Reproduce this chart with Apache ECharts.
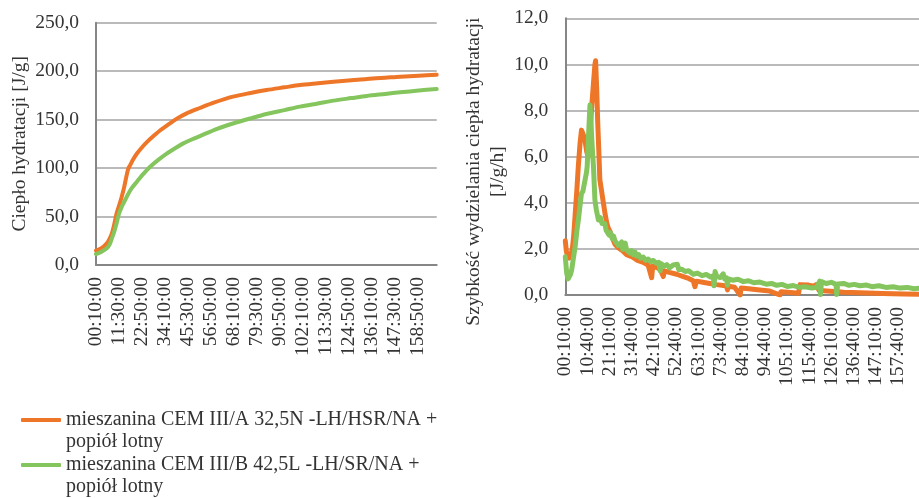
<!DOCTYPE html>
<html><head><meta charset="utf-8">
<script src="https://cdn.jsdelivr.net/npm/echarts/dist/echarts.min.js"></script>
<style>html,body{margin:0;padding:0;background:#fff}#c{width:919px;height:498px}</style>
</head><body><div id="c"></div>
<script>
// ---- data ----
const seriesNames = [
  'mieszanina CEM III/A 32,5N -LH/HSR/NA +\npopiół lotny',
  'mieszanina CEM III/B 42,5L -LH/SR/NA +\npopiół lotny'
];
const leftAxisName = 'Ciepło hydratacji [J/g]';
const rightAxisName = 'Szybkość wydzielania ciepła hydratacji\n[J/g/h]';
// time stamps every 10 min from 00:10:00 (category labels)
const sampleCount = 1008;
const categories = [];
for (let i = 0; i < sampleCount; i++) {
  const m = 10 + i * 10, h = Math.floor(m / 60), mm = m % 60;
  categories.push(String(h).padStart(2, '0') + ':' + String(mm).padStart(2, '0') + ':00');
}
// [sample index, value]
const heatOrange = [[0,14.8],[15,17],[32,22.4],[40,27],[47,32.7],[54,42],[61,53.3],[68,61],[76,70.5],[83,80],[89,90],[95,99],[101,103],[110,109],[121,115],[135,121],[151,127],[170,133],[190,139],[214,145],[239,151],[268,156.5],[307,162],[348,167.5],[405,173.7],[457,177.5],[504,180.5],[557,183.3],[603,185.7],[656,187.5],[702,189],[755,190.5],[800,191.9],[855,193.2],[899,194.3],[954,195.3],[1007,196.3]];
const heatGreen = [[0,11.3],[15,13.5],[32,17.2],[40,21],[47,27.5],[54,34.5],[61,43],[68,53],[76,60],[84,65.5],[91,70.5],[105,79],[121,86],[140,94],[160,101.4],[184,108.5],[209,115],[234,120.5],[258,125.5],[283,129.5],[307,133],[358,140.5],[405,146],[457,151.3],[504,155.8],[557,159.8],[603,163.4],[656,166.7],[702,169.6],[755,172.2],[800,174.4],[855,176.5],[899,178.2],[954,180],[1007,181.6]];
const rateOrange = [[0,2.35],[3,1.9],[6,1.7],[11,1.6],[16,1.75],[20,2.0],[24,2.6],[28,3.5],[33,4.6],[37,5.6],[42,6.6],[46,7.15],[50,7.0],[56,6.7],[61,6.2],[65,6.0],[70,7.0],[75,8.2],[80,9.2],[84,10.0],[86,10.16],[89,9.0],[92,7.5],[95,6.3],[98,5.0],[102,4.6],[106,4.2],[110,3.8],[113,3.5],[118,3.1],[122,2.9],[127,2.75],[133,2.5],[141,2.2],[150,2.05],[160,1.95],[174,1.75],[190,1.65],[205,1.5],[221,1.42],[235,1.3],[245,0.75],[248,1.25],[258,1.2],[269,1.12],[278,0.8],[281,1.05],[295,0.98],[316,0.9],[335,0.8],[350,0.72],[363,0.62],[368,0.36],[372,0.6],[390,0.55],[410,0.5],[430,0.45],[458,0.39],[460,0.22],[463,0.38],[480,0.34],[496,0.0],[499,0.3],[520,0.27],[552,0.22],[580,0.17],[609,0.0],[612,0.14],[630,0.12],[647,0.1],[662,0.08],[666,0.45],[690,0.43],[705,0.38],[712,0.45],[720,0.2],[742,0.17],[790,0.12],[836,0.1],[900,0.07],[960,0.04],[1007,0.03]];
const rateGreen = [[0,1.66],[4,0.94],[8,0.7],[11,0.72],[15,0.9],[18,1.08],[23,1.6],[28,2.1],[33,2.8],[37,3.25],[42,3.9],[46,4.41],[50,4.5],[56,4.99],[60,5.3],[62,5.56],[65,6.6],[68,7.6],[70,8.24],[72,7.8],[75,6.8],[78,6.0],[80,5.56],[84,4.12],[88,3.7],[94,3.25],[100,3.35],[104,3.1],[108,3.03],[112,3.1],[116,2.8],[120,2.85],[124,2.6],[128,2.7],[133,2.45],[137,2.55],[141,2.35],[146,2.4],[150,2.15],[155,2.2],[160,2.3],[163,1.98],[167,2.1],[170,2.25],[174,1.95],[179,2.0],[183,1.82],[188,1.92],[193,1.75],[198,1.86],[202,1.7],[208,1.75],[214,1.6],[221,1.65],[228,1.5],[235,1.56],[242,1.45],[250,1.5],[258,1.38],[265,1.42],[269,1.05],[272,1.36],[280,1.25],[288,1.32],[296,1.18],[306,1.3],[310,1.36],[318,1.33],[322,1.1],[330,1.12],[340,1.02],[350,1.05],[363,0.9],[375,0.95],[388,0.84],[400,0.89],[412,0.78],[420,0.84],[422,0.4],[425,1.02],[430,0.8],[440,0.76],[448,0.92],[452,0.7],[458,0.74],[460,0.42],[463,0.7],[475,0.64],[490,0.68],[505,0.58],[520,0.62],[535,0.53],[552,0.56],[570,0.47],[585,0.5],[600,0.42],[615,0.46],[630,0.37],[647,0.41],[665,0.33],[680,0.36],[700,0.3],[713,0.33],[718,0.32],[722,0.6],[724,0.02],[727,0.58],[740,0.5],[755,0.55],[768,0.46],[770,0.02],[773,0.48],[790,0.5],[805,0.42],[820,0.46],[836,0.4],[855,0.43],[870,0.36],[890,0.4],[910,0.33],[930,0.36],[950,0.3],[970,0.33],[990,0.27],[1007,0.3]];
const leftTicks = {min: 0, max: 250, step: 50};
const rightTicks = {min: 0, max: 12, step: 2};

// ---- styling ----
const FONT = 'Liberation Serif';
const TXT = '#333';
const ORANGE = '#EE7628';
const GREEN = '#84C55E';
const fmt1 = v => v.toFixed(1).replace('.', ',');
const axisLine = {show: true, lineStyle: {color: '#868686', width: 2}};
const split = {show: true, lineStyle: {color: '#a3a3a3', width: 1.5}};
function xAx(gi, interval) {
  return {type: 'category', gridIndex: gi, data: categories, boundaryGap: false,
    axisLine: axisLine, axisTick: {show: false}, splitLine: {show: false},
    axisLabel: {interval: interval, rotate: 90, margin: 12, fontFamily: FONT, fontSize: 19.5, color: TXT}};
}
function yAx(gi, t, name, gap, pad, lh) {
  return {type: 'value', gridIndex: gi, min: t.min, max: t.max, interval: t.step,
    axisLine: axisLine, axisTick: {show: false}, splitLine: split,
    axisLabel: {margin: 17, fontFamily: FONT, fontSize: 19.5, color: TXT, formatter: fmt1},
    name: name, nameLocation: 'middle', nameGap: gap,
    nameTextStyle: {fontFamily: FONT, fontSize: 19.5, color: TXT, lineHeight: lh, padding: pad}};
}
function line(name, gi, data, color, w, smooth) {
  return {type: 'line', name: name, xAxisIndex: gi, yAxisIndex: gi, data: data, showSymbol: false, symbol: 'none',
    smooth: smooth, color: color, lineStyle: {color: color, width: w, cap: 'round', join: 'round'}};
}
const chart = echarts.init(document.getElementById('c'));
chart.setOption({
  animation: false,
  grid: [{left: 96, top: 22.7, width: 340.7, height: 242.3, containLabel: false, outerBoundsMode: 'none'},
         {left: 565.3, top: 18.3, width: 354.9, height: 276.7, containLabel: false, outerBoundsMode: 'none'}],
  xAxis: [xAx(0, 67), xAx(1, 62)],
  yAxis: [yAx(0, leftTicks, leftAxisName, 65, 0, 22), yAx(1, rightTicks, rightAxisName, 43, [0, 30, 0, 0], 24)],
  legend: {orient: 'vertical', left: 21, top: 387, padding: 0, itemWidth: 40, itemHeight: 4, icon: 'roundRect', itemGap: -21,
    data: seriesNames,
    formatter: n => ' \n' + n,
    textStyle: {fontFamily: FONT, fontSize: 20, color: TXT, lineHeight: 22}},
  series: [
    line(seriesNames[0], 0, heatOrange, ORANGE, 4, 0.3),
    line(seriesNames[1], 0, heatGreen, GREEN, 4, 0.3),
    line(seriesNames[0], 1, rateOrange, ORANGE, 5, false),
    line(seriesNames[1], 1, rateGreen, GREEN, 5, false)
  ]
});
</script></body></html>
